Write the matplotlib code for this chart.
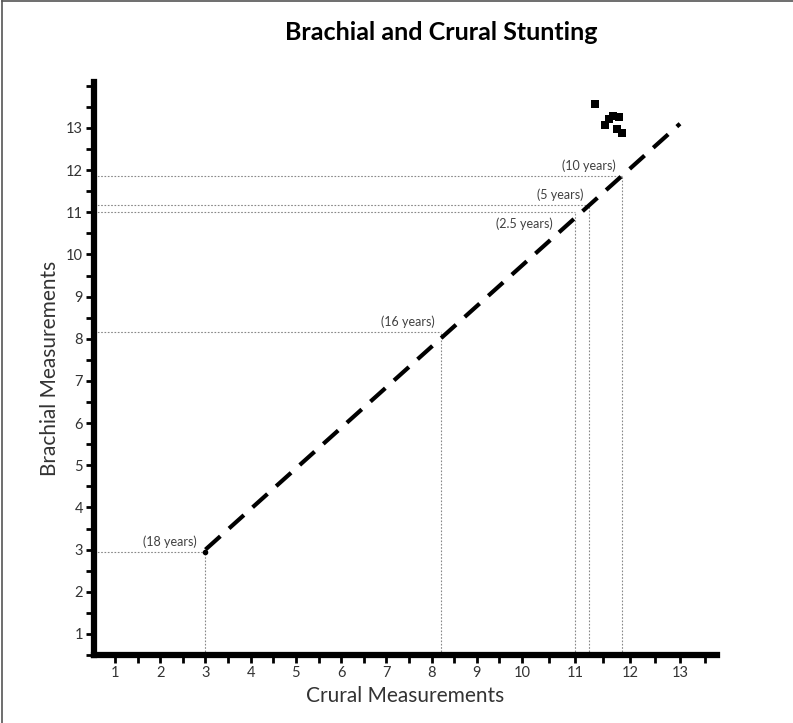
import numpy as np
import matplotlib
matplotlib.use('Agg')
import matplotlib.pyplot as plt
from matplotlib.ticker import MultipleLocator
from matplotlib.lines import Line2D

# ages marked along the growth line
age_labels = ['(18 years)', '(16 years)', '(2.5 years)', '(5 years)', '(10 years)']
crural = [3.0, 8.2, 11.0, 11.25, 11.85]
brachial = [2.95, 8.15, 11.0, 11.18, 11.85]

# dashed trend line ends
trend_x = [3.0, 13.0]
trend_y = [3.0, 13.1]

# cluster of squares, top right
cluster_x = [11.36, 11.55, 11.62, 11.69, 11.80, 11.76, 11.85]
cluster_y = [13.57, 13.07, 13.21, 13.28, 13.26, 12.98, 12.88]

# hand drawn x axis is not evenly spaced past 10
crural_knots = [0, 1, 10, 11, 12, 13, 14]
axis_knots = [69.8, 115, 522, 575, 630, 680, 730]


def fwd(v):
    return np.interp(v, crural_knots, axis_knots)


def inv(v):
    return np.interp(v, axis_knots, crural_knots)


def main():
    plt.rcParams['font.family'] = ['Lato', 'DejaVu Sans']
    fig = plt.figure(figsize=(7.93, 7.23), dpi=100)
    ax = fig.add_axes([94 / 793, 1 - 655 / 723, (717 - 94) / 793, (655 - 82) / 723])

    ax.set_xscale('function', functions=(fwd, inv))
    ax.set_xlim(0.535, 13.74)
    ax.set_ylim(0.5, 14.09)

    # dotted guide lines to each age
    for lab, cx, by in zip(age_labels, crural, brachial):
        ax.plot([0.535, cx], [by, by], color='#888888', lw=0.8, ls=(0, (1.5, 1.5)))
        ax.plot([cx, cx], [0.5, by], color='#888888', lw=0.8, ls=(0, (1.5, 1.5)))

    ax.plot(trend_x, trend_y, color='black', lw=3, ls=(0, (4.8, 2.8)), dash_capstyle='butt')
    ax.plot(crural[0], brachial[0], 'o', color='black', ms=3)
    ax.scatter(cluster_x, cluster_y, marker='s', s=40, color='black', linewidths=0)

    # age labels: (x shift in points, y shift in points)
    offsets = {'(2.5 years)': (-16, -4), '(18 years)': (-6, 3)}
    for lab, cx, by in zip(age_labels, crural, brachial):
        dx, dy = offsets.get(lab, (-4, 3))
        va = 'top' if dy < 0 else 'bottom'
        ax.annotate(lab, (cx, by), xytext=(dx, dy), textcoords='offset points',
                    ha='right', va=va, fontsize=9, color='#404040')

    for side in ['top', 'right']:
        ax.spines[side].set_visible(False)
    for side in ['left', 'bottom']:
        ax.spines[side].set_linewidth(4.5)
        ax.spines[side].set_capstyle('projecting')

    ax.xaxis.set_major_locator(MultipleLocator(1))
    ax.xaxis.set_minor_locator(MultipleLocator(0.5))
    ax.yaxis.set_major_locator(MultipleLocator(1))
    ax.yaxis.set_minor_locator(MultipleLocator(0.5))
    ax.set_xticks(range(1, 14))
    ax.set_yticks(range(1, 14))
    ax.tick_params(which='both', direction='out', length=6, width=2, color='black')
    ax.tick_params(labelsize=10.5, colors='#333333', pad=2)
    ax.tick_params(which='both', color='black')

    ax.set_xlabel('Crural Measurements', fontsize=15, color='#333333', labelpad=4)
    ax.set_ylabel('Brachial Measurements', fontsize=15, color='#333333', labelpad=4)
    fig.text(0.556, 0.955, 'Brachial and Crural Stunting', ha='center', va='center',
             fontsize=18, fontweight='bold', color='black')

    # outer frame (top and left edges)
    fig.add_artist(Line2D([0.003, 0.003], [0, 0.998], color='#555555', lw=1.2))
    fig.add_artist(Line2D([0.003, 1], [0.998, 0.998], color='#555555', lw=1.2))

    fig.savefig('out.png', dpi=100)


if __name__ == '__main__':
    main()
